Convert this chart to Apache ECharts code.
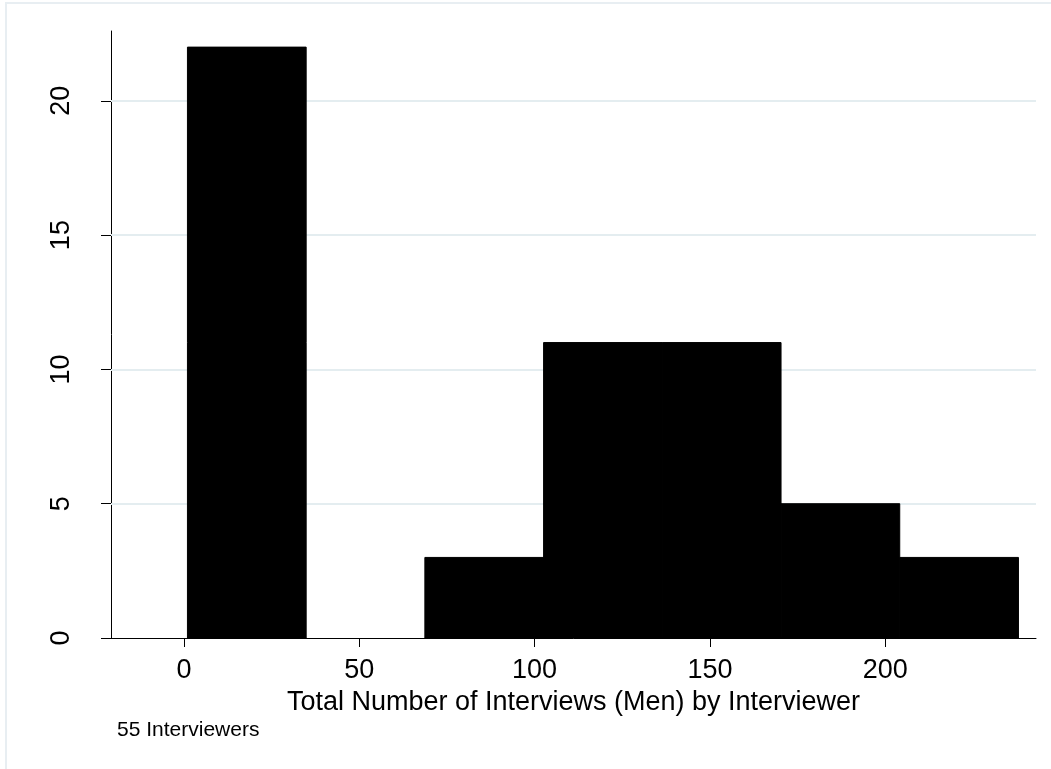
<!DOCTYPE html>
<html>
<head>
<meta charset="utf-8">
<script src="https://cdn.jsdelivr.net/npm/echarts@6/dist/echarts.min.js"></script>
<style>
html,body{margin:0;padding:0;background:#fff;}
#chart{width:1051px;height:769px;}
</style>
</head>
<body>
<div id="chart"></div>
<script>
// Histogram bins (Total Number of Interviews (Men) by Interviewer)
const binStarts = [1, 34.86, 68.71, 102.57, 136.43, 170.29, 204.14];
const binEnds   = [34.86, 68.71, 102.57, 136.43, 170.29, 204.14, 238];
const counts    = [22, 0, 3, 11, 11, 5, 3];
const xTicks = [0, 50, 100, 150, 200];
const yTicks = [0, 5, 10, 15, 20];
const xTitle = 'Total Number of Interviews (Men) by Interviewer';
const noteText = '55 Interviewers';

const data = binStarts.map((s, i) => [s, binEnds[i], counts[i]]);

const chart = echarts.init(document.getElementById('chart'), null, {renderer: 'canvas'});
const font = 'Liberation Sans, Arial, sans-serif';

chart.setOption({
  backgroundColor: '#ffffff',
  animation: false,
  grid: {left: 111, right: 15, top: 31, bottom: 131, containLabel: false},
  xAxis: {
    type: 'value',
    min: -20.8, max: 243,
    axisLine: {show: true, onZero: false, lineStyle: {color: '#000', width: 1}},
    axisTick: {show: true, length: 9, customValues: xTicks, lineStyle: {color: '#000'}},
    axisLabel: {customValues: xTicks, fontSize: 27, fontFamily: font, color: '#000', margin: 19},
    splitLine: {show: false},
    name: xTitle,
    nameLocation: 'middle',
    nameGap: 38,
    nameTextStyle: {fontSize: 27, fontFamily: font, color: '#000'}
  },
  yAxis: {
    type: 'value',
    min: 0, max: 22.6,
    axisLine: {show: true, onZero: false, lineStyle: {color: '#000', width: 1}},
    axisTick: {show: true, length: 10, customValues: yTicks, lineStyle: {color: '#000'}},
    axisLabel: {customValues: yTicks, rotate: 90, fontSize: 27, fontFamily: font, color: '#000', margin: 36},
    splitLine: {show: false}
  },
  series: [
    {
      type: 'custom',
      data: data,
      encode: {x: [0, 1], y: 2},
      renderItem: function (params, api) {
        if (api.value(2) <= 0) return null;
        const p0 = api.coord([api.value(0), 0]);
        const p1 = api.coord([api.value(1), api.value(2)]);
        return {
          type: 'rect',
          shape: {x: p0[0], y: p1[1], width: p1[0] - p0[0], height: p0[1] - p1[1]},
          style: {fill: '#000', stroke: '#000', lineWidth: 1}
        };
      },
      z: 5
    },
    {
      type: 'line',
      data: [],
      silent: true,
      z: 1,
      markLine: {
        silent: true,
        symbol: 'none',
        z: 1,
        label: {show: false},
        lineStyle: {color: '#e4edf0', type: 'solid', width: 2},
        data: yTicks.filter(v => v > 0).map(v => ({yAxis: v}))
      }
    }
  ],
  graphic: [
    {
      type: 'rect',
      shape: {x: 6, y: 3, width: 1100, height: 900},
      style: {fill: 'none', stroke: '#e8eef2', lineWidth: 2},
      z: -10, silent: true
    },
    {
      type: 'text',
      left: 117, top: 720,
      style: {text: noteText, fontSize: 21, fontFamily: font, fill: '#000'}
    }
  ]
});
</script>
</body>
</html>
